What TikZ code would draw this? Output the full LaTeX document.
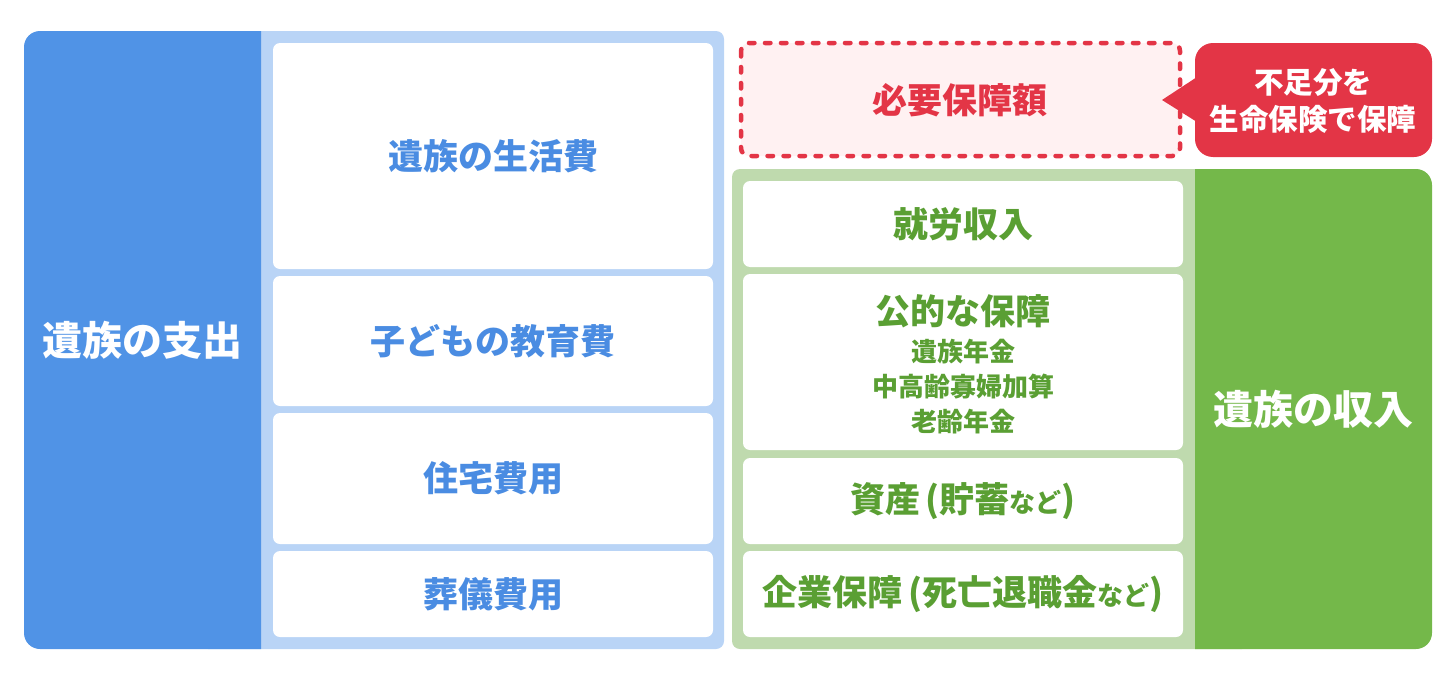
\documentclass[tikz,border=0pt]{standalone}
\usepackage{fontspec}
\setmainfont{Noto Sans CJK JP}
\usepackage{xcolor}
\usepackage{tikz}
\usetikzlibrary{calc}
\definecolor{deepblue}{HTML}{5093E6}
\definecolor{paleblue}{HTML}{B9D4F6}
\definecolor{bluetext}{HTML}{4A8CE2}
\definecolor{deepgreen}{HTML}{74B84A}
\definecolor{palegreen}{HTML}{BFDAAE}
\definecolor{greentext}{HTML}{5A9F33}
\definecolor{alertred}{HTML}{E33546}
\definecolor{alertpink}{HTML}{FFF1F2}
\newcommand{\slot}[5]{
\coordinate (#1nw) at (#2,#3);
\coordinate (#1se) at (#4,#5);
\fill[white, rounded corners=7pt] (#1nw) rectangle (#1se);
\coordinate (#1) at ($(#1nw)!0.5!(#1se)$);
}
\newcommand{\bigtxt}{\fontsize{35}{40}\selectfont}
\newcommand{\subtxt}{\fontsize{26}{35}\selectfont}

\begin{document}
\begin{tikzpicture}[x=1pt, y=-1pt, font=\bfseries,
  outtxt/.style={text=white, font=\bfseries\fontsize{40}{46}\selectfont},
  bluetxt/.style={text=bluetext, font=\bfseries\bigtxt},
  greentxt/.style={text=greentext, font=\bfseries\bigtxt, align=center}]
\useasboundingbox (0,0) rectangle (1456,680);
% expenses
\fill[paleblue, rounded corners=8pt] (200,31) rectangle (724,649);
\fill[deepblue] (261,31) [rounded corners=16pt] -- (24,31) -- (24,649) [sharp corners] -- (261,649) -- cycle;
\node[outtxt] at (142,340) (out) {遺族の支出};
\slot{s1}{273}{43}{713}{269}
\slot{s2}{273}{276}{713}{406}
\slot{s3}{273}{413}{713}{544}
\slot{s4}{273}{551}{713}{637}
\node[bluetxt] at (s1) (t1) {遺族の生活費};
\node[bluetxt] at (s2) (t2) {子どもの教育費};
\node[bluetxt] at (s3) (t3) {住宅費用};
\node[bluetxt] at (s4) (t4) {葬儀費用};
% income
\fill[palegreen, rounded corners=8pt] (732,169) rectangle (1250,649);
\fill[deepgreen] (1195,169) [rounded corners=16pt] -- (1432,169) -- (1432,649) [sharp corners] -- (1195,649) -- cycle;
\node[outtxt] at (1313,409) (in) {遺族の収入};
\slot{g1}{743}{181}{1183}{267}
\slot{g2}{743}{274}{1183}{450}
\slot{g3}{743}{458}{1183}{544}
\slot{g4}{743}{551}{1183}{637}
\node[greentxt] at (g1) (u1) {就労収入};
\node[greentxt, font=\bfseries\subtxt] at ($(g2)+(0,2)$) (u2) {{\bigtxt 公的な保障}\\[2pt]遺族年金\\中高齢寡婦加算\\老齢年金};
\node[greentxt] at (g3) (u3) {資産\,(貯蓄{\fontsize{26}{30}\selectfont など})};
\node[greentxt] at (g4) (u4) {企業保障\,(死亡退職金{\fontsize{26}{30}\selectfont など})};
% shortfall
\draw[alertred, fill=alertpink, line width=4.5pt, dash pattern=on 5.5pt off 10.5pt, line cap=round, rounded corners=8pt] (741,43) rectangle (1180,156);
\node[text=alertred, font=\bfseries\bigtxt] at (960,100) (need) {必要保障額};
\fill[alertred, rounded corners=18pt] (1195,43) rectangle (1432,157);
\fill[alertred] (1197,77) -- (1162,100) -- (1197,122) -- cycle;
\node[text=white, align=center, font=\bfseries\fontsize{29.5}{37}\selectfont] at (1313,101) (note) {不足分を\\生命保険で保障};
\end{tikzpicture}
\end{document}
